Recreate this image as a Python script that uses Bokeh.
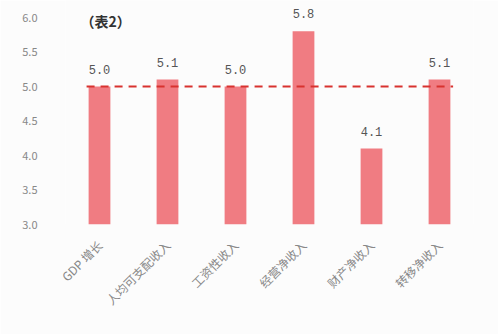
from bokeh.plotting import figure
from bokeh.models import ColumnDataSource, Label, FixedTicker, CustomJSTickFormatter
from bokeh.embed import file_html
from bokeh.resources import INLINE
from bokeh.core.properties import value
import math

categories = ["GDP 增长", "人均可支配收入", "工资性收入", "经营净收入", "财产净收入", "转移净收入"]
values = [5.0, 5.1, 5.0, 5.8, 4.1, 5.1]
value_labels = ["5.0", "5.1", "5.0", "5.8", "4.1", "5.1"]
reference_value = 5.0
y_ticks = [3.0, 3.5, 4.0, 4.5, 5.0, 5.5, 6.0]
title_text = "（表2）"

src = ColumnDataSource(dict(cat=categories, val=values, lab=value_labels))

# frame spans full top so that the label above the tallest bar is not clipped
p = figure(x_range=categories, y_range=(3.0, 6.0 + 17 * 3.0 / 207), width=498, height=334,
           output_backend="svg", toolbar_location=None,
           min_border_left=65, min_border_right=25, min_border_top=0, min_border_bottom=110)
p.background_fill_color = "#fcfcfc"
p.border_fill_color = "#fcfcfc"
p.outline_line_color = None
p.xgrid.grid_line_color = None
p.ygrid.grid_line_color = None

p.vbar(x="cat", top="val", bottom=3.0, width=0.32, source=src,
       fill_color="#f07c82", line_color=None)

p.text(x="cat", y="val", text="lab", source=src, text_align="center",
       text_baseline="bottom", y_offset=-13, text_font=value("Liberation Mono"),
       text_font_size="12px", text_color="#555555")

# reference (GDP growth) dashed line, from the first bar to the last bar
p.segment(x0=[0.31], x1=[len(categories) - 0.3], y0=[reference_value], y1=[reference_value],
          line_color="#d8322f", line_dash="8 6", line_width=2)

p.add_layout(Label(x=0.22, y=5.955, text=title_text,
                   text_font="Noto Sans CJK SC", text_font_size="14px", text_baseline="middle",
                   text_font_style="bold", text_color="#333333"))

p.yaxis.ticker = FixedTicker(ticks=y_ticks)
p.yaxis.formatter = CustomJSTickFormatter(code="return tick.toFixed(1);")
for ax in (p.xaxis, p.yaxis):
    ax.axis_line_color = None
    ax.major_tick_line_color = None
    ax.minor_tick_line_color = None
    ax.major_label_text_color = "#888888"
    ax.major_label_text_font = "Noto Sans CJK SC"
    ax.major_label_text_font_size = "12px"
p.yaxis.major_label_text_font_size = "11px"
p.yaxis.major_label_standoff = 22
p.xaxis.major_label_orientation = math.pi / 4
p.xaxis.major_label_standoff = 12

open("out.html", "w").write(file_html(p, INLINE))
